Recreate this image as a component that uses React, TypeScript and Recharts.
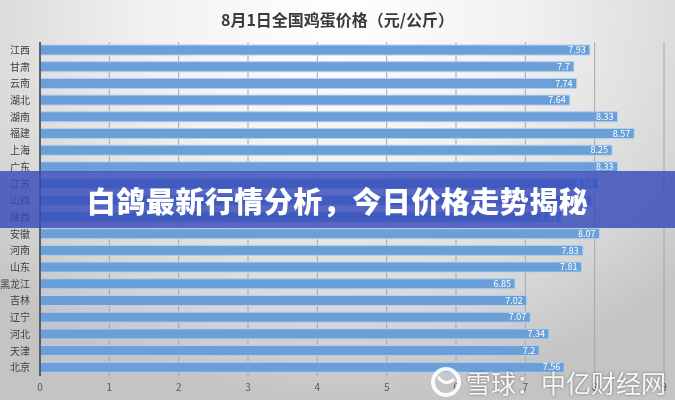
import React from 'react';
import { BarChart, Bar, XAxis, YAxis, CartesianGrid, LabelList } from 'recharts';

const provinces = ["江西", "甘肃", "云南", "湖北", "湖南", "福建", "上海", "广东", "江苏", "山西", "陕西", "安徽", "河南", "山东", "黑龙江", "吉林", "辽宁", "河北", "天津", "北京"];
const prices = [7.93, 7.7, 7.74, 7.64, 8.33, 8.57, 8.25, 8.33, 8.04, 7.96, 7.52, 8.07, 7.83, 7.81, 6.85, 7.02, 7.07, 7.34, 7.2, 7.56];
const xTicks = [0, 1, 2, 3, 4, 5, 6, 7, 8, 9];

const title = "8月1日全国鸡蛋价格（元/公斤）";
const banner = "白鸽最新行情分析，今日价格走势揭秘";
const watermark = "雪球：中亿财经网";

const font = '"Noto Sans CJK SC", "Noto Sans", sans-serif';

export default function App() {
  const data = provinces.map((name, i) => ({ name, value: prices[i] }));

  return (
    <div
      style={{
        position: 'fixed',
        top: 0,
        left: 0,
        width: 675,
        height: 400,
        overflow: 'hidden',
        fontFamily: font,
        background: 'radial-gradient(ellipse 70% 95% at 50% 5%, #ffffff 0%, #f1f1f1 40%, #d6d6d6 80%, #c4c4c4 100%)',
      }}
    >
      <div
        style={{
          position: 'absolute',
          top: 7,
          left: 0,
          width: 675,
          textAlign: 'center',
          fontSize: 16,
          fontWeight: 700,
          color: '#3a3a3a',
        }}
      >
        {title}
      </div>
      <BarChart
        width={675}
        height={400}
        data={data}
        layout="vertical"
        margin={{ top: 42, right: 11, bottom: 0, left: 0 }}
      >
        <CartesianGrid horizontal={false} stroke="#a6a6a6" strokeWidth={1} />
        <XAxis
          type="number"
          domain={[0, 9]}
          ticks={xTicks}
          height={24}
          axisLine={false}
          tickLine={false}
          tick={{ fontSize: 10, fill: '#595959', fontFamily: font }}
        />
        <YAxis
          type="category"
          dataKey="name"
          width={40}
          axisLine={{ stroke: '#404040', strokeWidth: 1.5 }}
          tickLine={false}
          interval={0}
          tick={{ fontSize: 10, fill: '#404040', fontFamily: font }}
          tickMargin={4}
        />
        <Bar dataKey="value" barSize={10} fill="#6a9fd7" stroke="#b3d0ee" strokeWidth={1} isAnimationActive={false}>
          <LabelList dataKey="value" position="insideRight" fill="#ffffff" fontSize={9} fontFamily={font} offset={4} />
        </Bar>
      </BarChart>
      <div
        style={{
          position: 'absolute',
          top: 171,
          left: 0,
          width: 675,
          height: 57,
          background: 'rgba(55, 75, 185, 0.82)',
          display: 'flex',
          alignItems: 'center',
          justifyContent: 'center',
          color: '#ffffff',
          fontSize: 29,
          fontWeight: 900,
          letterSpacing: 0.5,
        }}
      >
        {banner}
      </div>
      <div
        style={{
          position: 'absolute',
          top: 366,
          left: 430,
          display: 'flex',
          alignItems: 'center',
          color: 'rgba(255,255,255,0.92)',
          fontSize: 25,
          lineHeight: '30px',
          textShadow: '0 0 3px rgba(0,0,0,0.45)',
        }}
      >
        <svg width={32} height={32} style={{ marginRight: 4 }}>
          <circle cx={16} cy={16} r={13} fill="none" stroke="rgba(255,255,255,0.92)" strokeWidth={4} />
          <path d="M8 11 Q16 21 24 13" fill="none" stroke="rgba(255,255,255,0.92)" strokeWidth={3} />
        </svg>
        {watermark}
      </div>
    </div>
  );
}
